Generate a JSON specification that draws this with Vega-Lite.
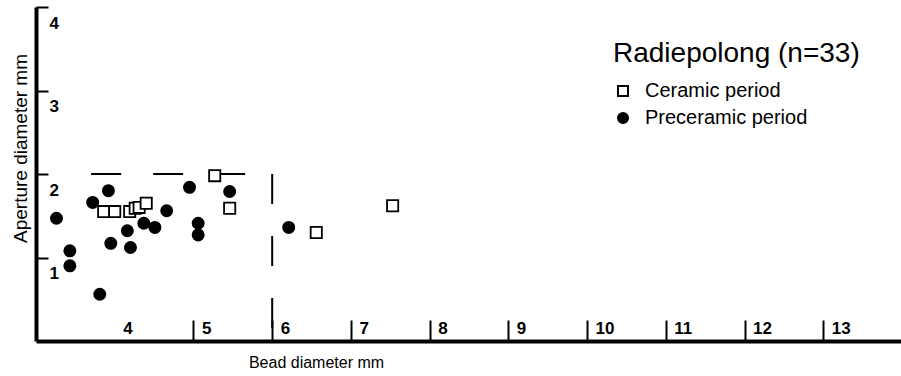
{
  "$schema": "https://vega.github.io/schema/vega-lite/v6.json",
  "width": 866,
  "height": 334,
  "autosize": {"type": "none"},
  "padding": {"left": 36, "top": 7, "right": 0, "bottom": 35},
  "background": "white",
  "config": {
    "font": "Liberation Sans",
    "view": {"stroke": null},
    "axis": {"grid": false, "domainColor": "black", "tickColor": "black", "labelColor": "black", "titleColor": "black", "titleFontWeight": "normal", "domainWidth": 4, "tickWidth": 2},
    "legend": {
      "orient": "none", "legendX": 577, "legendY": 33, "padding": 0,
      "titleFontSize": 28, "titleFontWeight": "normal", "titleColor": "black", "titlePadding": 13, "titleLimit": 400,
      "labelFontSize": 20, "labelColor": "black", "symbolSize": 100, "symbolStrokeWidth": 2, "symbolStrokeColor": "black",
      "labelOffset": 12, "rowPadding": 7, "labelLimit": 400
    }
  },
  "datasets": {
    "beads": [
      {"bead": 3.26, "aperture": 1.47, "period": "Preceramic period"},
      {"bead": 3.43, "aperture": 1.08, "period": "Preceramic period"},
      {"bead": 3.43, "aperture": 0.90, "period": "Preceramic period"},
      {"bead": 3.81, "aperture": 0.56, "period": "Preceramic period"},
      {"bead": 3.72, "aperture": 1.66, "period": "Preceramic period"},
      {"bead": 3.92, "aperture": 1.80, "period": "Preceramic period"},
      {"bead": 3.95, "aperture": 1.17, "period": "Preceramic period"},
      {"bead": 4.16, "aperture": 1.32, "period": "Preceramic period"},
      {"bead": 4.20, "aperture": 1.12, "period": "Preceramic period"},
      {"bead": 4.37, "aperture": 1.41, "period": "Preceramic period"},
      {"bead": 4.51, "aperture": 1.36, "period": "Preceramic period"},
      {"bead": 4.66, "aperture": 1.56, "period": "Preceramic period"},
      {"bead": 4.95, "aperture": 1.84, "period": "Preceramic period"},
      {"bead": 5.06, "aperture": 1.41, "period": "Preceramic period"},
      {"bead": 5.06, "aperture": 1.27, "period": "Preceramic period"},
      {"bead": 5.46, "aperture": 1.79, "period": "Preceramic period"},
      {"bead": 6.21, "aperture": 1.36, "period": "Preceramic period"},
      {"bead": 3.86, "aperture": 1.55, "period": "Ceramic period"},
      {"bead": 4.00, "aperture": 1.55, "period": "Ceramic period"},
      {"bead": 4.19, "aperture": 1.55, "period": "Ceramic period"},
      {"bead": 4.26, "aperture": 1.59, "period": "Ceramic period"},
      {"bead": 4.31, "aperture": 1.60, "period": "Ceramic period"},
      {"bead": 4.40, "aperture": 1.65, "period": "Ceramic period"},
      {"bead": 5.27, "aperture": 1.98, "period": "Ceramic period"},
      {"bead": 5.46, "aperture": 1.59, "period": "Ceramic period"},
      {"bead": 6.56, "aperture": 1.30, "period": "Ceramic period"},
      {"bead": 7.53, "aperture": 1.62, "period": "Ceramic period"}
    ],
    "hline": [{"bead": 3.7, "bead2": 6, "aperture": 2}],
    "vline": [{"bead": 6, "aperture": 2, "aperture2": 0}]
  },
  "encoding": {
    "x": {
      "field": "bead", "type": "quantitative", "scale": {"domain": [3, 14]},
      "axis": {
        "values": [4, 5, 6, 7, 8, 9, 10, 11, 12, 13],
        "title": "Bead diameter mm", "titleFontSize": 16, "titleX": 280, "titleY": 21,
        "titleAlign": "center", "titleBaseline": "middle",
        "domainWidth": 4, "tickSize": -21, "tickWidth": 2,
        "tickOpacity": {"condition": {"test": "datum.value === 4", "value": 0}, "value": 1},
        "labelAlign": "left", "labelOffset": 8, "labelPadding": 0, "labelBaseline": "top",
        "labelFontSize": 17, "labelFontWeight": "bold", "labelFlush": false, "labelOverlap": false
      }
    },
    "y": {
      "field": "aperture", "type": "quantitative", "scale": {"domain": [0, 4]},
      "axis": {
        "values": [1, 2, 3, 4],
        "title": "Aperture diameter mm", "titleFontSize": 19, "titleX": -16, "titleY": 141,
        "titleAngle": 270, "titleAlign": "center", "titleBaseline": "middle",
        "domainWidth": 4, "tickSize": -12, "tickWidth": 2,
        "labelAlign": "left", "labelPadding": -1, "labelBaseline": "middle", "labelOffset": 16,
        "labelFontSize": 17, "labelFontWeight": "bold", "labelFlush": false, "labelOverlap": false
      }
    }
  },
  "layer": [
    {
      "data": {"name": "hline"},
      "mark": {"type": "rule", "color": "black", "strokeWidth": 2, "strokeDash": [30, 32]},
      "encoding": {"x2": {"field": "bead2"}}
    },
    {
      "data": {"name": "vline"},
      "mark": {"type": "rule", "color": "black", "strokeWidth": 2, "strokeDash": [30, 32]},
      "encoding": {"y2": {"field": "aperture2"}}
    },
    {
      "data": {"name": "beads"},
      "mark": {"type": "point", "strokeWidth": 1.8, "opacity": 1, "fillOpacity": 1, "strokeOpacity": 1, "size": 125},
      "encoding": {
        "shape": {
          "field": "period", "type": "nominal",
          "scale": {"domain": ["Ceramic period", "Preceramic period"], "range": ["square", "circle"]},
          "legend": {"title": "Radiepolong (n=33)"}
        },
        "fill": {
          "field": "period", "type": "nominal",
          "scale": {"domain": ["Ceramic period", "Preceramic period"], "range": ["white", "black"]},
          "legend": {"title": "Radiepolong (n=33)"}
        },
        "stroke": {
          "field": "period", "type": "nominal",
          "scale": {"domain": ["Ceramic period", "Preceramic period"], "range": ["black", "black"]},
          "legend": {"title": "Radiepolong (n=33)"}
        }
      }
    }
  ]
}
